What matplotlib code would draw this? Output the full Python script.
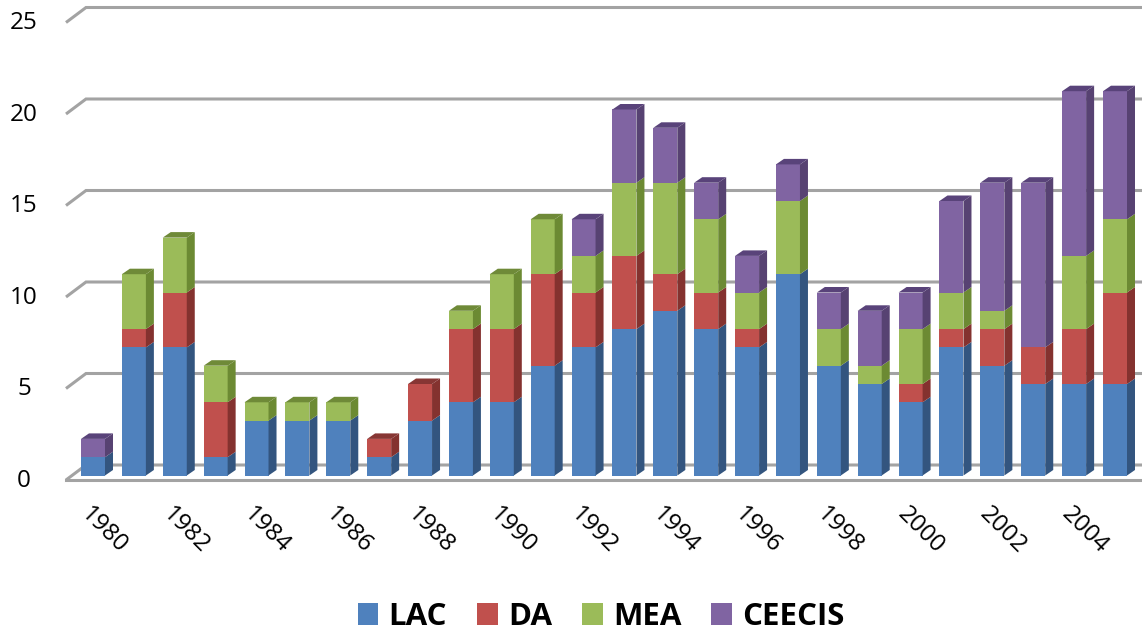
import matplotlib
matplotlib.use("Agg")
import matplotlib.pyplot as plt
from matplotlib.patches import Patch

years = list(range(1980, 2006))
series_names = ["LAC", "DA", "MEA", "CEECIS"]
lac = [1, 7, 7, 1, 3, 3, 3, 1, 3, 4, 4, 6, 7, 8, 9, 8, 7, 11, 6, 5, 4, 7, 6, 5, 5, 5]
da = [0, 1, 3, 3, 0, 0, 0, 1, 2, 4, 4, 5, 3, 4, 2, 2, 1, 0, 0, 0, 1, 1, 2, 2, 3, 5]
mea = [0, 3, 3, 2, 1, 1, 1, 0, 0, 1, 3, 3, 2, 4, 5, 4, 2, 4, 2, 1, 3, 2, 1, 0, 4, 4]
ceecis = [1, 0, 0, 0, 0, 0, 0, 0, 0, 0, 0, 0, 2, 4, 3, 2, 2, 2, 2, 3, 2, 5, 7, 9, 9, 7]
y_ticks = [0, 5, 10, 15, 20, 25]

front = ["#4f81bd", "#c0504d", "#9bbb59", "#8064a2"]
side = ["#33557f", "#84322f", "#6c8a33", "#574272"]
top = ["#375a85", "#873634", "#6f8a38", "#59437a"]

W, H = 1142, 630
PX_X, PX_Y = 40.88, 18.3      # pixels per category / per unit
X0, Y0 = 93.0, 475.5          # pixel of first bar centre, of value 0
BW = 24 / PX_X
DX, DY = 8 / PX_X, 5.5 / PX_Y
# wall/floor geometry in axis units
FX, BX = (66 - X0) / PX_X, (86 - X0) / PX_X
F0, B0 = (Y0 - 480) / PX_Y, (Y0 - 465) / PX_Y

plt.rcParams["font.family"] = ["Open Sans", "DejaVu Sans"]
fig = plt.figure(figsize=(W / 100, H / 100), dpi=100)
ax = fig.add_axes([0, 0, 1, 1])
ax.set_xlim(-X0 / PX_X, (W - X0) / PX_X)
ax.set_ylim((Y0 - H) / PX_Y, Y0 / PX_Y)
ax.axis("off")

GRID = "#a3a3a3"
xr = (W - X0) / PX_X
for v in y_ticks:
    ax.plot([FX, BX, xr], [v + F0, v + B0, v + B0], color=GRID, lw=2.2,
            solid_joinstyle="miter", solid_capstyle="butt", zorder=1)
    ax.text((24 - X0) / PX_X, v + F0 - 0.04, str(v), ha="center", va="center",
            fontsize=17.5, color="#000000")
ax.plot([FX, xr], [F0, F0], color=GRID, lw=2.2, zorder=1)

for i, yr in enumerate(years):
    base = 0
    vals = [lac[i], da[i], mea[i], ceecis[i]]
    last = max(k for k, v in enumerate(vals) if v > 0)
    xl, xe = i - BW / 2, i + BW / 2
    for k, v in enumerate(vals):
        if v == 0:
            continue
        ax.bar(i, v, BW, bottom=base, color=front[k], linewidth=0, zorder=3)
        ax.fill([xe, xe + DX, xe + DX, xe],
                [base, base + DY, base + v + DY, base + v],
                color=side[k], linewidth=0, zorder=3)
        base += v
        if k == last:
            ax.fill([xl, xl + DX, xe + DX, xe],
                    [base, base + DY, base + DY, base],
                    color=top[k], linewidth=0, zorder=3)
    if i % 2 == 0:
        ax.text(i + 10.5 / PX_X, (Y0 - 530) / PX_Y, str(yr), rotation=-45, ha="center",
                va="center", rotation_mode="anchor", fontsize=17.5, color="#000000")

handles = [Patch(facecolor=c, edgecolor="none", label=n) for c, n in zip(front, series_names)]
ax.legend(handles=handles, ncol=4, frameon=False, loc="center",
          bbox_to_anchor=(601 / W, 1 - 617 / H), handlelength=0.67, handleheight=0.67,
          handletextpad=0.32, columnspacing=0.96, borderpad=0,
          prop={"family": "Open Sans", "weight": "bold", "size": 22.5})

fig.savefig("out.png", dpi=100)
